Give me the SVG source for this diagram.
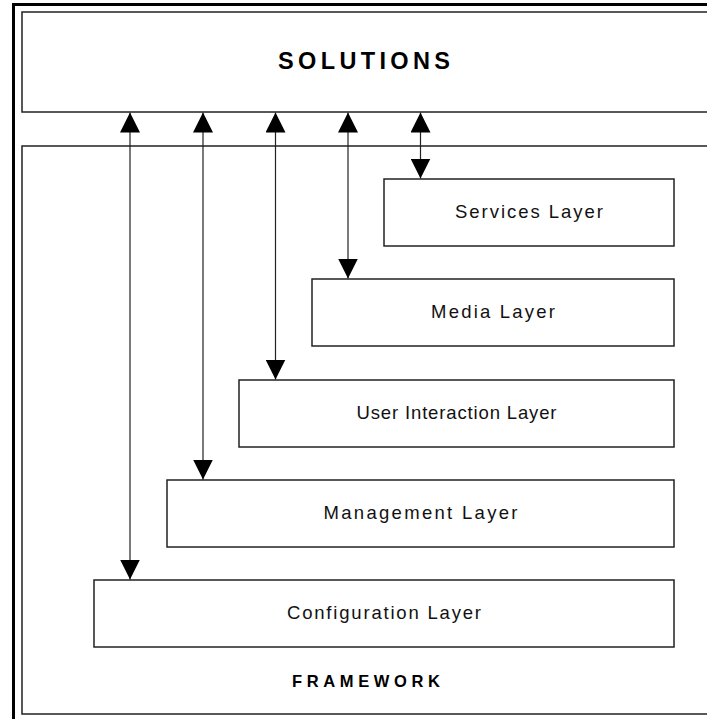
<svg xmlns="http://www.w3.org/2000/svg" width="707" height="719" viewBox="0 0 707 719">
<defs>
<marker id="ah" viewBox="0 0 20 20" refX="20" refY="10" markerWidth="20" markerHeight="20" markerUnits="userSpaceOnUse" orient="auto-start-reverse">
<path d="M0,0 L20,10 L0,20 Z" fill="#000"/>
</marker>
<style>
.box{fill:#fff;stroke:#222;stroke-width:1.5}
.lbl{font-family:"Liberation Sans",Arial,sans-serif;font-size:18.5px;fill:#111;text-anchor:middle}
.ttl{font-family:"Liberation Sans",Arial,sans-serif;font-weight:bold;fill:#000;text-anchor:middle}
.con{stroke:#222;stroke-width:1.2;fill:none;marker-start:url(#ah);marker-end:url(#ah)}
</style>
</defs>
<rect width="707" height="719" fill="#fff"/>
<rect x="13.5" y="4.5" width="710" height="730" fill="none" stroke="#000" stroke-width="3"/>
<g id="solutions">
<rect class="box" x="22" y="12" width="700" height="100"/>
<text class="ttl" x="364" y="69" font-size="23.5" textLength="172" lengthAdjust="spacing">SOLUTIONS</text>
</g>
<g id="framework">
<rect class="box" x="22" y="146" width="700" height="568"/>
<text class="ttl" x="366" y="687" font-size="16.5" textLength="148" lengthAdjust="spacing">FRAMEWORK</text>
</g>
<g id="services">
<rect class="box" x="384" y="179" width="290" height="67"/>
<text class="lbl" x="529" y="218" textLength="148" lengthAdjust="spacing">Services Layer</text>
</g>
<g id="media">
<rect class="box" x="312" y="279" width="362" height="67"/>
<text class="lbl" x="493" y="318" textLength="124" lengthAdjust="spacing">Media Layer</text>
</g>
<g id="userinteraction">
<rect class="box" x="239" y="380" width="435" height="67"/>
<text class="lbl" x="456.5" y="419" textLength="200" lengthAdjust="spacing">User Interaction Layer</text>
</g>
<g id="management">
<rect class="box" x="167" y="480" width="507" height="67"/>
<text class="lbl" x="420.5" y="519" textLength="194" lengthAdjust="spacing">Management Layer</text>
</g>
<g id="configuration">
<rect class="box" x="94" y="580" width="580" height="67"/>
<text class="lbl" x="384" y="619" textLength="194" lengthAdjust="spacing">Configuration Layer</text>
</g>
<g id="connectors">
<line class="con" x1="130" y1="112.5" x2="130" y2="579.5"/>
<line class="con" x1="203" y1="112.5" x2="203" y2="479.5"/>
<line class="con" x1="275.5" y1="112.5" x2="275.5" y2="379.5"/>
<line class="con" x1="348" y1="112.5" x2="348" y2="278.5"/>
<line class="con" x1="420.5" y1="112.5" x2="420.5" y2="178.5"/>
</g>
</svg>
